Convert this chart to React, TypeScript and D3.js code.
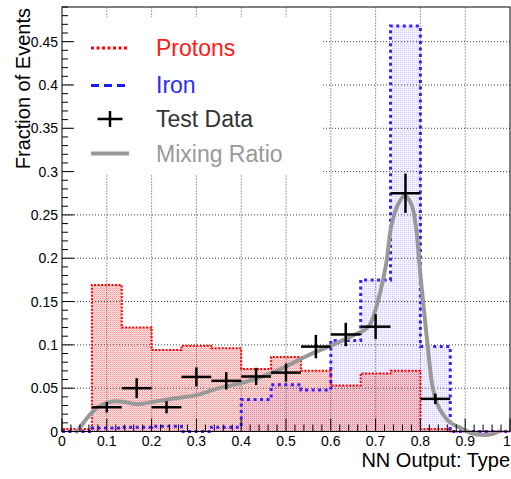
import React from 'react';
import * as d3 from 'd3';

// ---- data ----
const nBins = 15;
const protons = [0.003, 0.169, 0.120, 0.094, 0.099, 0.096, 0.072, 0.086, 0.070, 0.053, 0.067, 0.070, 0.003, 0, 0];
const iron = [0, 0.004, 0.005, 0.006, 0.0, 0.005, 0.037, 0.054, 0.048, 0.105, 0.175, 0.468, 0.098, 0, 0];
const dataBins = [1, 2, 3, 4, 5, 6, 7, 8, 9, 10, 11, 12];
const dataY = [0.028, 0.050, 0.028, 0.063, 0.0585, 0.0635, 0.068, 0.098, 0.112, 0.121, 0.275, 0.0377];
const dataErr = [0.006, 0.0115, 0.007, 0.011, 0.010, 0.010, 0.0105, 0.0135, 0.0135, 0.0144, 0.0227, 0.006];
const mixX = [0.033, 0.045, 0.06, 0.08, 0.1, 0.12, 0.14, 0.16, 0.18, 0.2, 0.25, 0.3, 0.35, 0.4, 0.45, 0.5, 0.55, 0.6, 0.65, 0.68, 0.69, 0.705, 0.717, 0.725, 0.735, 0.75, 0.765, 0.78, 0.79, 0.797, 0.803, 0.81, 0.818, 0.826, 0.835, 0.85, 0.865, 0.89, 0.915, 0.94, 0.96, 0.975];
const mixY = [0, 0.008, 0.018, 0.028, 0.033, 0.035, 0.034, 0.032, 0.032, 0.034, 0.038, 0.042, 0.050, 0.056, 0.064, 0.075, 0.088, 0.099, 0.111, 0.119, 0.126, 0.150, 0.176, 0.198, 0.237, 0.262, 0.272, 0.262, 0.237, 0.198, 0.165, 0.130, 0.090, 0.055, 0.035, 0.020, 0.011, 0.004, -0.002, -0.004, -0.003, 0];
const xTicks = [0, 0.1, 0.2, 0.3, 0.4, 0.5, 0.6, 0.7, 0.8, 0.9, 1];
const yTicks = [0, 0.05, 0.1, 0.15, 0.2, 0.25, 0.3, 0.35, 0.4, 0.45];
const legendItems = ['Protons', 'Iron', 'Test Data', 'Mixing Ratio'];

const FONT = '"Liberation Sans", Arial, Helvetica, sans-serif';

export default function App() {
  const W = 511, H = 479;
  const x = d3.scaleLinear().domain([0, 1]).range([62, 510]);
  const y = d3.scaleLinear().domain([0, 0.49]).range([431.5, 7]);
  const edges = d3.range(nBins + 1).map(i => i / nBins);

  const stepPts = (vals: number[]) => {
    const pts: [number, number][] = [[x(0), y(0)]];
    vals.forEach((v, i) => {
      pts.push([x(edges[i]), y(v)]);
      pts.push([x(edges[i + 1]), y(v)]);
    });
    pts.push([x(1), y(0)]);
    return pts;
  };
  const pathOf = (pts: [number, number][], close = false) =>
    'M' + pts.map(p => p.join(',')).join('L') + (close ? 'Z' : '');

  const protPts = stepPts(protons);
  const ironPts = stepPts(iron);

  const xMinor = d3.range(0, 1.0001, 0.02);
  const yMinor = d3.range(0, 0.4901, 0.01);

  const line = d3.line<number>()
    .x((_, i) => x(mixX[i]))
    .y(d => y(d))
    .curve(d3.curveCatmullRom.alpha(0.5));

  const legY = [48, 85.5, 119, 153.5];
  const legTextY = [56, 92.5, 127.3, 162];

  return (
    <svg width={W} height={H} style={{ position: 'absolute', left: 0, top: 0, background: '#fff' }}
      fontFamily={FONT}>
      <defs>
        <pattern id="protPat" width="2" height="2" patternUnits="userSpaceOnUse">
          <rect width="2" height="2" fill="rgba(255,40,40,0.12)" />
          <rect width="1" height="1" fill="rgba(255,0,0,0.36)" />
          <rect x="1" y="1" width="1" height="1" fill="rgba(255,0,0,0.18)" />
        </pattern>
        <pattern id="ironPat" width="2" height="2" patternUnits="userSpaceOnUse">
          <rect width="2" height="2" fill="#f4f2ff" />
          <rect width="1" height="1" fill="#d3cbff" />
        </pattern>
      </defs>
      <rect x={0} y={0} width={W} height={H} fill="#fff" />

      {/* fills */}
      <path d={pathOf(ironPts, true)} fill="url(#ironPat)" stroke="none" />
      <path d={pathOf(protPts, true)} fill="url(#protPat)" stroke="none" />

      {/* grid */}
      {xTicks.slice(1, -1).map(t => (
        <line key={'gx' + t} x1={x(t)} x2={x(t)} y1={y(0)} y2={y(0.49)} stroke="#444" strokeWidth={1} strokeDasharray="1,2" />
      ))}
      {yTicks.slice(1).map(t => (
        <line key={'gy' + t} x1={x(0)} x2={x(1)} y1={y(t)} y2={y(t)} stroke="#444" strokeWidth={1} strokeDasharray="1,2" />
      ))}

      {/* legend box */}
      <rect x={72} y={17} width={251} height={157} fill="#fff" />

      {/* outlines */}
      <path d={pathOf(protPts)} fill="none" stroke="#ff0000" strokeWidth={2} strokeDasharray="2,1.5" />
      <path d={pathOf(ironPts)} fill="none" stroke="#3d1cff" strokeWidth={3} strokeDasharray="3,3.5" />

      {/* mixing ratio curve */}
      <path d={line(mixY) || ''} fill="none" stroke="#999" strokeWidth={4} strokeLinejoin="round" strokeLinecap="round" />

      {/* test data */}
      {dataBins.map((b, i) => (
        <g key={'d' + b} stroke="#000" strokeWidth={2.5}>
          <line x1={x(edges[b])} x2={x(edges[b + 1])} y1={y(dataY[i])} y2={y(dataY[i])} />
          <line x1={x((edges[b] + edges[b + 1]) / 2)} x2={x((edges[b] + edges[b + 1]) / 2)}
            y1={y(dataY[i] - dataErr[i])} y2={y(dataY[i] + dataErr[i])} />
        </g>
      ))}

      {/* frame */}
      <rect x={x(0)} y={y(0.49)} width={x(1) - x(0)} height={y(0) - y(0.49)} fill="none" stroke="#000" strokeWidth={1} />

      {/* x ticks */}
      {xMinor.map((t, i) => (
        <line key={'xm' + i} x1={x(t)} x2={x(t)} y1={y(0)} y2={y(0) - (i % 5 === 0 ? 13 : 7)} stroke="#000" strokeWidth={1} />
      ))}
      {/* y ticks */}
      {yMinor.map((t, i) => (
        <line key={'ym' + i} x1={x(0)} x2={x(0) + (i % 5 === 0 ? 12 : 6)} y1={y(t)} y2={y(t)} stroke="#000" strokeWidth={1} />
      ))}

      {xTicks.map(t => (
        <text key={'xl' + t} x={t === 1 ? 507 : x(t)} y={446} fontSize={14} textAnchor="middle" fill="#000">{`${+t.toFixed(2)}`}</text>
      ))}
      {yTicks.map(t => (
        <text key={'yl' + t} x={58} y={y(t)} fontSize={14} textAnchor="end" dominantBaseline="central" fill="#000">{`${+t.toFixed(2)}`}</text>
      ))}

      <text x={510} y={467} fontSize={20} textAnchor="end" fill="#000">NN Output: Type</text>
      <text transform="translate(30,8) rotate(-90)" fontSize={20} textAnchor="end" fill="#000">Fraction of Events</text>

      {/* legend */}
      <line x1={91} x2={129} y1={legY[0]} y2={legY[0]} stroke="#ff0000" strokeWidth={3} strokeDasharray="3,2.5" />
      <line x1={91} x2={129} y1={legY[1]} y2={legY[1]} stroke="#1a1aff" strokeWidth={3} strokeDasharray="8,5" />
      <g stroke="#000" strokeWidth={2.5}>
        <line x1={97.5} x2={122.5} y1={legY[2]} y2={legY[2]} />
        <line x1={110} x2={110} y1={legY[2] - 8} y2={legY[2] + 8} />
      </g>
      <line x1={91} x2={129} y1={legY[3]} y2={legY[3]} stroke="#999" strokeWidth={4} />
      <text x={156} y={legTextY[0]} fontSize={23} fill="#ff1a1a">{legendItems[0]}</text>
      <text x={156} y={legTextY[1]} fontSize={23} fill="#2b2bff">{legendItems[1]}</text>
      <text x={156} y={legTextY[2]} fontSize={23} fill="#333">{legendItems[2]}</text>
      <text x={156} y={legTextY[3]} fontSize={23} fill="#999">{legendItems[3]}</text>
    </svg>
  );
}
